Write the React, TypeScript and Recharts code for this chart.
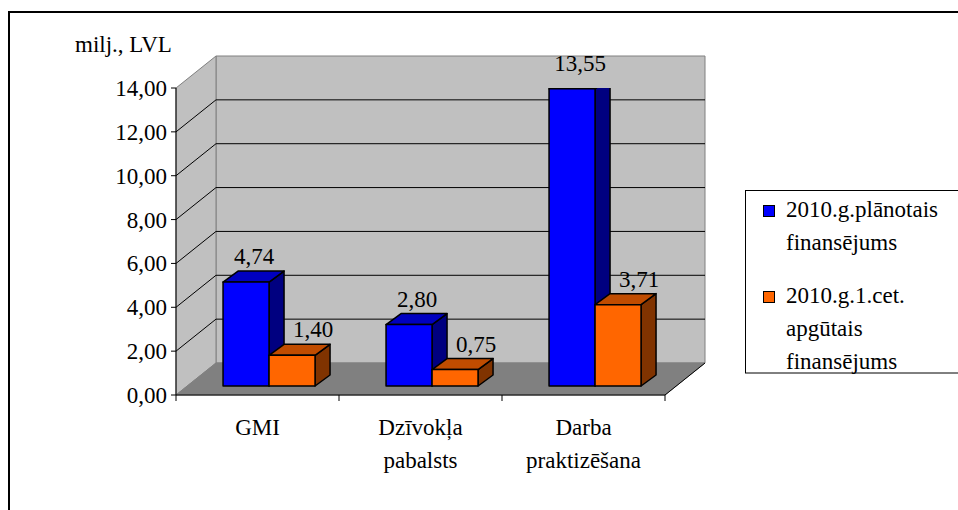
import { BarChart, Bar, XAxis, YAxis, Legend, LabelList, Customized } from "recharts";

const categories = ["GMI", "Dzīvokļa\npabalsts", "Darba\npraktizēšana"];
const planned = [4.74, 2.8, 13.55];
const absorbed = [1.4, 0.75, 3.71];
const yTicks = [0, 2, 4, 6, 8, 10, 12, 14];
const seriesNames = ["2010.g.plānotais finansējums", "2010.g.1.cet. apgūtais finansējums"];
const legendLines = [
  ["2010.g.plānotais", "finansējums"],
  ["2010.g.1.cet.", "apgūtais", "finansējums"],
];

const data = categories.map((name, i) => ({ name, planned: planned[i], absorbed: absorbed[i] }));

const FS = 23;
const TXT = { fontFamily: "Liberation Serif", fontSize: FS };

// plot (front plane) in page coords
const LEFT = 176;
const RIGHT = 665;
const TOP = 88;
const BOTTOM = 395;
const Y_MAX = 14;
// depth of the walls
const DX = 40;
const DY = -32;
// where bars sit inside the depth
const BX = 12;
const BY = -9;
// depth of a bar
const PX = 15;
const PY = -11;

const yOf = (v: number) => BOTTOM - (v / Y_MAX) * (BOTTOM - TOP);
const fmt = (v: number) => v.toFixed(2).replace(".", ",");

const blue = { front: "#0000FF", top: "#0000C0", side: "#000080" };
const orange = { front: "#FF6600", top: "#C04C00", side: "#803300" };

function Walls() {
  const catW = (RIGHT - LEFT) / categories.length;
  return (
    <g>
      <rect x={9} y={12} width={1200} height={800} fill="none" stroke="#000" strokeWidth={2} />
      <text x={75} y={52} style={TXT} fill="#000">
        milj., LVL
      </text>
      {/* back wall */}
      <polygon
        points={`${LEFT + DX},${TOP + DY} ${RIGHT + DX},${TOP + DY} ${RIGHT + DX},${BOTTOM + DY} ${LEFT + DX},${BOTTOM + DY}`}
        fill="#C0C0C0"
        stroke="#808080"
      />
      {/* side wall */}
      <polygon
        points={`${LEFT},${TOP} ${LEFT + DX},${TOP + DY} ${LEFT + DX},${BOTTOM + DY} ${LEFT},${BOTTOM}`}
        fill="#C0C0C0"
        stroke="#808080"
      />
      {/* floor */}
      <polygon
        points={`${LEFT},${BOTTOM} ${RIGHT},${BOTTOM} ${RIGHT + DX},${BOTTOM + DY} ${LEFT + DX},${BOTTOM + DY}`}
        fill="#808080"
        stroke="#808080"
      />
      <line x1={RIGHT} y1={BOTTOM} x2={RIGHT + DX} y2={BOTTOM + DY} stroke="#000" />
      {yTicks
        .filter((v) => v > 0 && v < Y_MAX)
        .map((v) => (
          <g key={v}>
            <line x1={LEFT} y1={yOf(v)} x2={LEFT + DX} y2={yOf(v) + DY} stroke="#000" />
            <line x1={LEFT + DX} y1={yOf(v) + DY} x2={RIGHT + DX} y2={yOf(v) + DY} stroke="#000" />
          </g>
        ))}
      {categories.map((_, i) => (
        <line key={i} x1={LEFT + catW * i} y1={BOTTOM} x2={LEFT + catW * i} y2={BOTTOM + 6} stroke="#000" />
      ))}
      <line x1={RIGHT} y1={BOTTOM} x2={RIGHT} y2={BOTTOM + 6} stroke="#000" />
    </g>
  );
}

function makeBox(c: { front: string; top: string; side: string }) {
  return (props: any) => {
    const { x, y, width, height } = props;
    if (width == null || height == null) return null;
    const fx = x + BX;
    const fy = y + BY;
    return (
      <g stroke="#000" strokeWidth={1.5} strokeLinejoin="round">
        <polygon
          points={`${fx + width},${fy} ${fx + width + PX},${fy + PY} ${fx + width + PX},${fy + height + PY} ${fx + width},${fy + height}`}
          fill={c.side}
        />
        <polygon
          points={`${fx},${fy} ${fx + width},${fy} ${fx + width + PX},${fy + PY} ${fx + PX},${fy + PY}`}
          fill={c.top}
        />
        <rect x={fx} y={fy} width={width} height={height} fill={c.front} />
      </g>
    );
  };
}

// excel nudges the labels of the second series further right
const makeLabel = (shiftX: number) => (props: any) => {
  const { x, y, width, value } = props;
  return (
    <text x={x + BX + width / 2 + shiftX} y={y + BY + PY - 7} textAnchor="middle" style={TXT} fill="#000">
      {fmt(Number(value))}
    </text>
  );
};

const CatTick = (props: any) => {
  const { x, y, payload } = props;
  const lines = String(payload.value).split("\n");
  return (
    <text x={x} y={y} textAnchor="middle" style={TXT} fill="#000">
      {lines.map((l, i) => (
        <tspan key={i} x={x} y={y + 40 + i * 33}>
          {l}
        </tspan>
      ))}
    </text>
  );
};

const ValTick = (props: any) => {
  const { x, y, payload } = props;
  return (
    <text x={x} y={y + 8} textAnchor="end" style={TXT} fill="#000">
      {fmt(Number(payload.value))}
    </text>
  );
};

const LegendBox = () => {
  const colors = [blue.front, orange.front];
  let base = 27;
  return (
    <svg width={215} height={184} style={{ display: "block" }}>
      <rect x={0.5} y={0.5} width={230} height={182.5} fill="#fff" stroke="#000" />
      {legendLines.map((lines, k) => {
        const start = base;
        base += lines.length * 33 + 20;
        return (
          <g key={k}>
            <rect x={18.5} y={start - 11.5} width={11} height={11} fill={colors[k]} stroke="#000" />
            <text style={TXT} fill="#000">
              {lines.map((l, i) => (
                <tspan key={i} x={41} y={start + i * 33}>
                  {l}
                </tspan>
              ))}
            </text>
          </g>
        );
      })}
    </svg>
  );
};

export default function App() {
  return (
    <div style={{ position: "absolute", left: 0, top: 0, background: "#fff" }}>
      <BarChart
        width={958}
        height={510}
        data={data}
        margin={{ left: LEFT - 60, right: 958 - RIGHT, top: TOP, bottom: 510 - BOTTOM - 60 }}
        barCategoryGap="21.5%"
        barGap={0}
      >
        <Customized component={Walls} />
        <XAxis
          dataKey="name"
          height={60}
          tickLine={false}
          tickSize={0}
          tickMargin={0}
          axisLine={{ stroke: "#000" }}
          tick={<CatTick />}
          interval={0}
        />
        <YAxis
          width={60}
          domain={[0, Y_MAX]}
          ticks={yTicks}
          interval={0}
          axisLine={{ stroke: "#000" }}
          tickLine={{ stroke: "#000" }}
          tickSize={5}
          tickMargin={4}
          tick={<ValTick />}
          allowDataOverflow
        />
        <Legend
          layout="horizontal"
          align="center"
          verticalAlign="middle"
          content={<LegendBox />}
          wrapperStyle={{ left: 745, top: 190, width: 215, height: 184, right: "auto", bottom: "auto" }}
        />
        <Bar dataKey="planned" name={seriesNames[0]} fill={blue.front} shape={makeBox(blue)} isAnimationActive={false}>
          <LabelList dataKey="planned" content={makeLabel(8)} />
        </Bar>
        <Bar dataKey="absorbed" name={seriesNames[1]} fill={orange.front} shape={makeBox(orange)} isAnimationActive={false}>
          <LabelList dataKey="absorbed" content={makeLabel(21)} />
        </Bar>
      </BarChart>
    </div>
  );
}
